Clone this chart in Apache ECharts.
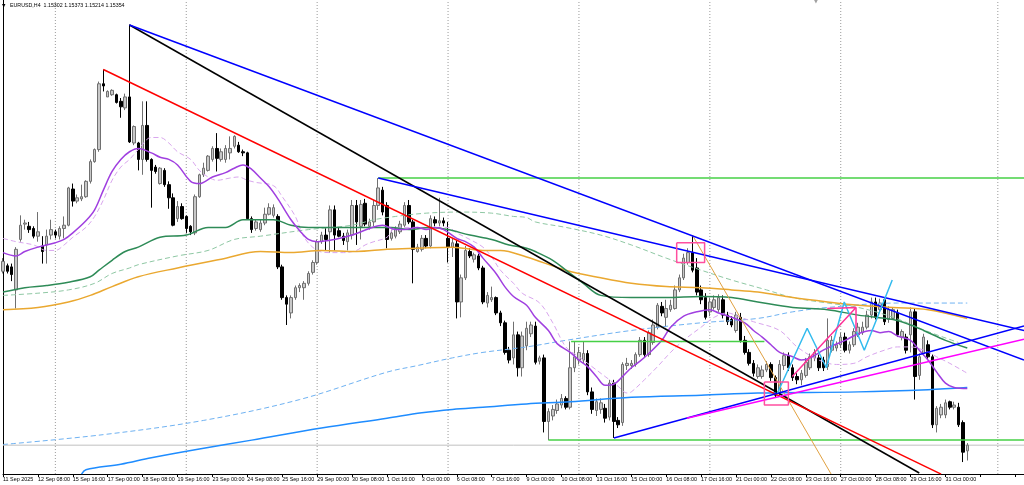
<!DOCTYPE html>
<html><head><meta charset="utf-8">
<script src="https://cdn.jsdelivr.net/npm/echarts@6/dist/echarts.min.js"></script>
<style>html,body{margin:0;padding:0;background:#fff}#c{width:1024px;height:485px}</style>
</head><body><div id="c"></div><script>
// ---------- data ----------
const N_CAT = 235; // 222 bars + empty right shift
const tickLabels = ["11 Sep 2025","12 Sep 08:00","15 Sep 16:00","17 Sep 00:00","18 Sep 08:00","19 Sep 16:00","23 Sep 00:00","24 Sep 08:00","25 Sep 16:00","29 Sep 00:00","30 Sep 08:00","1 Oct 16:00","3 Oct 00:00","6 Oct 08:00","7 Oct 16:00","9 Oct 00:00","10 Oct 08:00","13 Oct 16:00","15 Oct 00:00","16 Oct 08:00","17 Oct 16:00","21 Oct 00:00","22 Oct 08:00","23 Oct 16:00","27 Oct 00:00","28 Oct 08:00","29 Oct 16:00","31 Oct 00:00"];
const weekSeparators = [12,42,72,102,132,162,192,228];
const titleText = "EURUSD,H4  1.15302 1.15373 1.15214 1.15354";
const bidPrice = 1.15354;
const yMin = 1.15091, yMax = 1.19414;
// [open, high, low, close]
const ohlc = [
[1.1694,1.1706,1.1692,1.1703],[1.1699,1.1701,1.1692,1.1694],[1.1698,1.1701,1.1685,1.1691],[1.1677,1.1716,1.1660,1.1714],
[1.1723,1.1745,1.1721,1.1736],[1.1737,1.1741,1.1732,1.1738],[1.1735,1.1739,1.1729,1.1732],[1.1733,1.1735,1.1724,1.1726],
[1.1726,1.1748,1.1721,1.1730],[1.1717,1.1726,1.1701,1.1712],[1.1718,1.1732,1.1701,1.1726],[1.1727,1.1741,1.1723,1.1732],
[1.1730,1.1732,1.1724,1.1727],[1.1726,1.1735,1.1723,1.1733],[1.1733,1.1744,1.1724,1.1736],[1.1736,1.1771,1.1735,1.1770],
[1.1769,1.1774,1.1753,1.1758],[1.1758,1.1764,1.1756,1.1761],[1.1760,1.1773,1.1758,1.1762],[1.1762,1.1777,1.1761,1.1776],
[1.1776,1.1796,1.1774,1.1794],[1.1794,1.1806,1.1793,1.1805],[1.1805,1.1867,1.1803,1.1865],[1.1865,1.1878,1.1858,1.1863],
[1.1853,1.1859,1.1853,1.1858],[1.1855,1.1860,1.1854,1.1859],[1.1855,1.1856,1.1847,1.1848],[1.1849,1.1852,1.1834,1.1844],
[1.1843,1.1856,1.1841,1.1853],[1.1853,1.1919,1.1811,1.1812],[1.1811,1.1827,1.1809,1.1826],[1.1811,1.1812,1.1786,1.1796],
[1.1796,1.1849,1.1782,1.1827],[1.1827,1.1849,1.1794,1.1796],[1.1796,1.1797,1.1752,1.1786],[1.1789,1.1791,1.1783,1.1785],
[1.1774,1.1789,1.1773,1.1788],[1.1786,1.1788,1.1771,1.1773],[1.1773,1.1776,1.1751,1.1761],[1.1761,1.1765,1.1735,1.1736],
[1.1742,1.1758,1.1739,1.1753],[1.1753,1.1756,1.1741,1.1742],[1.1744,1.1745,1.1729,1.1733],[1.1735,1.1736,1.1727,1.1730],
[1.1729,1.1764,1.1727,1.1762],[1.1762,1.1783,1.1761,1.1782],[1.1782,1.1793,1.1780,1.1788],[1.1786,1.1800,1.1785,1.1799],
[1.1796,1.1808,1.1794,1.1806],[1.1806,1.1820,1.1785,1.1797],[1.1796,1.1806,1.1794,1.1803],[1.1796,1.1809,1.1793,1.1806],
[1.1802,1.1817,1.1796,1.1806],[1.1808,1.1818,1.1806,1.1817],[1.1809,1.1812,1.1802,1.1803],[1.1803,1.1805,1.1799,1.1802],
[1.1802,1.1803,1.1741,1.1742],[1.1742,1.1744,1.1729,1.1732],[1.1733,1.1741,1.1731,1.1739],[1.1732,1.1741,1.1730,1.1738],
[1.1738,1.1752,1.1736,1.1746],[1.1746,1.1756,1.1745,1.1752],[1.1745,1.1755,1.1743,1.1752],[1.1744,1.1746,1.1696,1.1698],
[1.1698,1.1700,1.1668,1.1670],[1.1670,1.1672,1.1645,1.1664],[1.1656,1.1672,1.1651,1.1670],[1.1670,1.1681,1.1668,1.1679],
[1.1679,1.1683,1.1675,1.1681],[1.1679,1.1685,1.1668,1.1683],[1.1683,1.1694,1.1681,1.1692],[1.1693,1.1704,1.1691,1.1702],
[1.1702,1.1723,1.1700,1.1721],[1.1721,1.1730,1.1719,1.1727],[1.1727,1.1734,1.1713,1.1723],[1.1730,1.1754,1.1711,1.1750],
[1.1750,1.1754,1.1713,1.1727],[1.1731,1.1734,1.1725,1.1726],[1.1726,1.1729,1.1718,1.1722],[1.1721,1.1732,1.1713,1.1729],
[1.1727,1.1759,1.1723,1.1754],[1.1754,1.1759,1.1718,1.1739],[1.1735,1.1759,1.1723,1.1755],[1.1756,1.1760,1.1735,1.1737],
[1.1735,1.1742,1.1732,1.1739],[1.1739,1.1759,1.1735,1.1754],[1.1754,1.1779,1.1750,1.1770],[1.1768,1.1771,1.1745,1.1748],
[1.1754,1.1757,1.1715,1.1723],[1.1724,1.1732,1.1722,1.1729],[1.1726,1.1735,1.1724,1.1733],[1.1730,1.1740,1.1728,1.1737],
[1.1736,1.1757,1.1734,1.1754],[1.1754,1.1759,1.1737,1.1739],[1.1739,1.1741,1.1683,1.1714],[1.1712,1.1719,1.1711,1.1716],
[1.1714,1.1727,1.1712,1.1724],[1.1724,1.1727,1.1715,1.1717],[1.1717,1.1745,1.1715,1.1742],[1.1741,1.1744,1.1735,1.1738],
[1.1738,1.1761,1.1735,1.1740],[1.1740,1.1743,1.1735,1.1738],[1.1724,1.1739,1.1702,1.1716],[1.1716,1.1724,1.1707,1.1720],
[1.1719,1.1722,1.1651,1.1666],[1.1666,1.1691,1.1652,1.1688],[1.1688,1.1717,1.1686,1.1713],[1.1712,1.1715,1.1706,1.1708],
[1.1705,1.1711,1.1702,1.1709],[1.1708,1.1710,1.1695,1.1697],[1.1697,1.1699,1.1664,1.1666],[1.1665,1.1675,1.1661,1.1672],
[1.1668,1.1680,1.1666,1.1670],[1.1670,1.1671,1.1654,1.1656],[1.1656,1.1658,1.1644,1.1647],[1.1647,1.1649,1.1618,1.1620],
[1.1622,1.1625,1.1610,1.1613],[1.1615,1.1648,1.1609,1.1636],[1.1636,1.1639,1.1598,1.1606],[1.1606,1.1639,1.1598,1.1635],
[1.1626,1.1648,1.1622,1.1642],[1.1637,1.1648,1.1634,1.1645],[1.1644,1.1648,1.1609,1.1611],[1.1612,1.1617,1.1609,1.1615],
[1.1615,1.1618,1.1547,1.1557],[1.1557,1.1569,1.1540,1.1566],[1.1562,1.1572,1.1558,1.1568],[1.1567,1.1577,1.1564,1.1573],
[1.1572,1.1582,1.1569,1.1578],[1.1578,1.1580,1.1568,1.1570],[1.1570,1.1630,1.1568,1.1606],[1.1606,1.1630,1.1602,1.1616],
[1.1613,1.1625,1.1609,1.1620],[1.1613,1.1630,1.1610,1.1619],[1.1619,1.1622,1.1581,1.1584],[1.1584,1.1588,1.1564,1.1568],
[1.1567,1.1578,1.1562,1.1575],[1.1568,1.1578,1.1564,1.1574],[1.1569,1.1573,1.1556,1.1560],[1.1561,1.1595,1.1558,1.1592],
[1.1592,1.1595,1.1542,1.1557],[1.1558,1.1561,1.1551,1.1554],[1.1556,1.1611,1.1553,1.1609],[1.1608,1.1615,1.1604,1.1610],
[1.1608,1.1613,1.1605,1.1610],[1.1609,1.1620,1.1607,1.1618],[1.1618,1.1634,1.1616,1.1631],[1.1631,1.1634,1.1616,1.1618],
[1.1618,1.1640,1.1616,1.1638],[1.1629,1.1650,1.1627,1.1645],[1.1643,1.1665,1.1641,1.1663],[1.1662,1.1666,1.1653,1.1656],
[1.1652,1.1668,1.1643,1.1660],[1.1659,1.1668,1.1657,1.1663],[1.1660,1.1681,1.1659,1.1677],[1.1677,1.1691,1.1675,1.1688],
[1.1688,1.1710,1.1686,1.1706],[1.1702,1.1715,1.1700,1.1711],[1.1711,1.1727,1.1693,1.1695],[1.1697,1.1706,1.1672,1.1675],
[1.1677,1.1681,1.1664,1.1668],[1.1670,1.1674,1.1650,1.1652],[1.1657,1.1670,1.1653,1.1666],[1.1661,1.1672,1.1659,1.1668],
[1.1659,1.1673,1.1657,1.1670],[1.1668,1.1672,1.1651,1.1654],[1.1654,1.1657,1.1645,1.1648],[1.1650,1.1653,1.1643,1.1645],
[1.1640,1.1657,1.1638,1.1654],[1.1652,1.1656,1.1629,1.1631],[1.1631,1.1635,1.1618,1.1620],[1.1620,1.1623,1.1608,1.1610],
[1.1610,1.1613,1.1598,1.1601],[1.1598,1.1609,1.1596,1.1606],[1.1598,1.1608,1.1596,1.1604],[1.1604,1.1612,1.1602,1.1609],
[1.1609,1.1611,1.1594,1.1597],[1.1597,1.1599,1.1579,1.1581],[1.1583,1.1613,1.1580,1.1609],[1.1608,1.1620,1.1604,1.1617],
[1.1617,1.1620,1.1603,1.1606],[1.1606,1.1609,1.1594,1.1597],[1.1598,1.1601,1.1591,1.1595],[1.1595,1.1604,1.1590,1.1601],
[1.1599,1.1615,1.1597,1.1611],[1.1606,1.1619,1.1604,1.1616],[1.1615,1.1623,1.1612,1.1620],[1.1615,1.1618,1.1603,1.1606],
[1.1613,1.1616,1.1603,1.1606],[1.1607,1.1651,1.1604,1.1631],[1.1622,1.1635,1.1620,1.1631],[1.1624,1.1630,1.1621,1.1627],
[1.1627,1.1638,1.1624,1.1634],[1.1634,1.1638,1.1620,1.1622],[1.1622,1.1630,1.1619,1.1627],[1.1627,1.1642,1.1625,1.1639],
[1.1636,1.1647,1.1634,1.1643],[1.1638,1.1648,1.1636,1.1643],[1.1643,1.1658,1.1641,1.1654],[1.1654,1.1670,1.1651,1.1666],
[1.1666,1.1670,1.1650,1.1652],[1.1659,1.1669,1.1656,1.1665],[1.1668,1.1670,1.1645,1.1648],[1.1650,1.1662,1.1647,1.1659],
[1.1651,1.1661,1.1650,1.1659],[1.1656,1.1659,1.1634,1.1636],[1.1634,1.1641,1.1631,1.1639],[1.1634,1.1637,1.1619,1.1622],
[1.1636,1.1661,1.1620,1.1657],[1.1657,1.1660,1.1577,1.1598],[1.1599,1.1619,1.1595,1.1616],[1.1619,1.1637,1.1617,1.1634],
[1.1627,1.1631,1.1613,1.1616],[1.1616,1.1618,1.1551,1.1554],[1.1554,1.1571,1.1547,1.1569],[1.1563,1.1573,1.1560,1.1570],
[1.1563,1.1577,1.1560,1.1574],[1.1575,1.1576,1.1568,1.1570],[1.1570,1.1575,1.1568,1.1572],[1.1570,1.1574,1.1552,1.1554],
[1.1556,1.1558,1.1520,1.1529],[1.15302,1.15373,1.15214,1.15354]
];
// moving averages: [bar index, price]
const maPurple = [[0,1.1711],[3,1.1708],[5,1.1712],[8,1.1716],[12,1.1720],[14,1.1723],[16,1.1729],[19,1.1740],[21,1.1750],[23,1.1768],[25,1.1785],[27,1.1796],[29,1.1803],[31,1.1806],[34,1.1802],[36,1.1798],[38,1.1796],[40,1.1791],[43,1.1776],[45,1.1774],[48,1.1780],[51,1.1784],[53,1.1788],[55,1.1791],[57,1.1787],[59,1.1779],[61,1.1771],[63,1.1760],[66,1.1741],[68,1.1731],[70,1.1723],[72,1.1721],[76,1.1723],[80,1.1727],[84,1.1733],[87,1.1736],[90,1.1732],[92,1.1732],[95,1.1734],[97,1.1732],[99,1.1734],[101,1.1732],[104,1.1724],[106,1.1721],[108,1.1716],[110,1.1706],[113,1.1692],[115,1.1680],[117,1.1671],[120,1.1663],[122,1.1652],[125,1.1640],[127,1.1628],[130,1.1620],[132,1.1613],[134,1.1607],[136,1.1598],[138,1.1590],[140,1.1591],[142,1.1598],[144,1.1606],[146,1.1612],[148,1.1619],[151,1.1631],[153,1.1643],[156,1.1653],[159,1.1657],[162,1.1659],[164,1.1656],[167,1.1652],[170,1.1647],[172,1.1640],[174,1.1634],[176,1.1627],[178,1.1620],[181,1.1616],[183,1.1613],[185,1.1615],[188,1.1622],[190,1.1626],[193,1.1631],[196,1.1637],[199,1.1640],[201,1.1638],[203,1.1639],[205,1.1635],[208,1.1631],[210,1.1622],[212,1.1613],[214,1.1602],[216,1.1592],[218,1.1588],[221,1.1587]];
const maLilac = [[0,1.1724],[3,1.1721],[7,1.1718],[10,1.1713],[12,1.1713],[14,1.1718],[16,1.1725],[19,1.1734],[21,1.1744],[23,1.1759],[25,1.1777],[27,1.1789],[29,1.1796],[31,1.1805],[34,1.1816],[36,1.1816],[38,1.1811],[40,1.1803],[43,1.1796],[45,1.1786],[47,1.1780],[49,1.1777],[52,1.1779],[54,1.1780],[56,1.1777],[58,1.1775],[62,1.1772],[64,1.1762],[67,1.1744],[69,1.1725],[72,1.1713],[75,1.1711],[78,1.1711],[81,1.1713],[83,1.1718],[85,1.1721],[88,1.1725],[90,1.1734],[94,1.1734],[99,1.1734],[102,1.1734],[104,1.1729],[107,1.1723],[110,1.1716],[112,1.1707],[114,1.1695],[117,1.1683],[119,1.1674],[123,1.1665],[126,1.1647],[129,1.1625],[132,1.1616],[135,1.1607],[138,1.1598],[141,1.1589],[143,1.1583],[144,1.1584],[147,1.1595],[150,1.1607],[153,1.1620],[156,1.1631],[160,1.1643],[163,1.1652],[166,1.1656],[169,1.1652],[172,1.1648],[178,1.1640],[182,1.1625],[187,1.1613],[191,1.1609],[195,1.1610],[198,1.1616],[202,1.1622],[205,1.1625],[208,1.1625],[211,1.1622],[214,1.1616],[217,1.1610],[221,1.1601]];
const maGreen = [[0,1.1675],[5,1.1679],[10,1.1681],[15,1.1684],[20,1.1689],[22,1.1695],[25,1.1704],[28,1.1712],[31,1.1716],[36,1.1725],[42,1.1727],[47,1.1734],[51,1.1734],[55,1.1741],[59,1.1741],[62,1.1741],[66,1.1736],[70,1.1734],[75,1.1734],[80,1.1734],[84,1.1734],[89,1.1734],[93,1.1732],[98,1.1734],[102,1.1732],[107,1.1727],[112,1.1723],[116,1.1718],[120,1.1715],[122,1.1712],[126,1.1704],[129,1.1695],[133,1.1683],[137,1.1672],[144,1.1670],[152,1.1670],[160,1.1671],[167,1.1670],[173,1.1666],[181,1.1661],[189,1.1659],[196,1.1654],[204,1.1650],[208,1.1645],[211,1.1640],[216,1.1631],[221,1.1624]];
const maGreenDash = [[0,1.1672],[8,1.1674],[15,1.1677],[21,1.1683],[25,1.1692],[29,1.1697],[31,1.1700],[40,1.1708],[47,1.1713],[53,1.1723],[59,1.1726],[70,1.1732],[80,1.1736],[85,1.1741],[90,1.1744],[97,1.1747],[105,1.1748],[112,1.1747],[117,1.1744],[120,1.1743],[122,1.1739],[129,1.1734],[137,1.1727],[144,1.1718],[152,1.1706],[160,1.1695],[167,1.1686],[175,1.1677],[181,1.1670],[189,1.1665],[196,1.1661],[204,1.1652],[212,1.1639],[219,1.1629]];
const maOrange = [[0,1.1659],[8,1.1661],[15,1.1666],[20,1.1672],[25,1.1680],[31,1.1689],[40,1.1697],[50,1.1705],[59,1.1712],[66,1.1711],[73,1.1713],[81,1.1712],[88,1.1714],[95,1.1715],[103,1.1716],[110,1.1713],[114,1.1713],[120,1.1707],[129,1.1695],[137,1.1688],[144,1.1683],[152,1.1680],[160,1.1679],[167,1.1677],[173,1.1675],[181,1.1670],[189,1.1666],[196,1.1663],[204,1.1661],[212,1.1659],[221,1.1651]];
const maBlue = [[18,1.1509],[19,1.1513],[27,1.1518],[34,1.1524],[45,1.1532],[57,1.1540],[73,1.1551],[88,1.1560],[96,1.1565],[103,1.1568],[110,1.1570],[120,1.1573],[130,1.1575],[144,1.1579],[160,1.1581],[173,1.1583],[196,1.1584],[212,1.1586],[221,1.1588]];
const maBlueDash = [[0,1.1536],[23,1.1545],[46,1.1558],[68,1.1577],[88,1.1602],[95,1.1608],[103,1.1615],[110,1.1620],[120,1.1625],[129,1.1631],[144,1.1640],[160,1.1647],[173,1.1651],[181,1.1657],[189,1.1661],[205,1.1665],[221,1.1665]];
// drawn objects: [[index, price], ...]
const trendBlack = [[29,1.19186],[210,1.1510]];
const trendRed = [[23,1.1878],[215,1.1509]];
const trendBlueA = [[29,1.19186],[234,1.1613]];
const trendBlueB = [[86,1.1779],[234,1.1640]];
const trendBlueC = [[140,1.1542],[234,1.1644]];
const trendMagenta = [[156.7,1.1560],[234,1.1632]];
const levelGreen1 = [[86,1.1779],[234,1.1779]];
const levelGreen2 = [[125,1.1540],[234,1.1540]];
const levelGreen3 = [[130.2,1.1630],[174.5,1.1630]];
const trendOrange = [[158,1.1727],[189.8,1.1509]];
const zigCyan = [[177.5,1.1583],[184.3,1.1642],[188.7,1.1606],[192.8,1.1666],[197.4,1.1622],[203.8,1.1686]];
const zigPink = [[180.9,1.1598],[195.5,1.1661],[188.9,1.1660]];
const pinkTick = [[195.5,1.1661],[195.5,1.1639]];
const box1 = [[154.4,1.1720],[160.8,1.1720],[160.8,1.1702],[154.4,1.1702],[154.4,1.1720]];
const box2 = [[174.5,1.1593],[180,1.1593],[180,1.1572],[174.5,1.1572],[174.5,1.1593]];

// ---------- chart ----------
const categories = Array.from({length: N_CAT}, (_, i) => String(i));
const candleData = ohlc.map(d => [d[0], d[3], d[2], d[1]]);
function ln(data, color, width, type, z) {
  return {type:'line', xAxisIndex:1, yAxisIndex:0, data, symbol:'none', showSymbol:false,
    lineStyle:{color, width, type: type || 'solid'}, silent:true, animation:false, z: z || 4, clip:true};
}
function ma(data, color, width, type) { const s = ln(data, color, width, type, 3); s.smooth = 0.35; return s; }
const series = [];
weekSeparators.forEach(k => series.push(ln([[k,yMin],[k,yMax]], '#9a9a9a', 1, [1,2], 1)));
series.push(ln([[0,bidPrice],[234,bidPrice]], '#c0c0c0', 1, 'solid', 1));
series.push({type:'candlestick', xAxisIndex:0, yAxisIndex:0, data:candleData, barWidth:3, z:2, animation:false,
  itemStyle:{color:'#c8c8c8', color0:'#000000', borderColor:'#707070', borderColor0:'#000000', borderWidth:1}});
series.push(ma(maBlueDash, '#6fb2f2', 1, [5,3]));
series.push(ma(maGreenDash, '#8fc8a4', 1, [5,3]));
series.push(ma(maLilac, '#d9a6ee', 1, [5,3]));
series.push(ma(maBlue, '#1e8cff', 1.5));
series.push(ma(maOrange, '#eaa830', 1.5));
series.push(ma(maGreen, '#2e8b57', 1.5));
series.push(ma(maPurple, '#a03fe0', 1.5));
series.push(ln(levelGreen1, '#46d046', 1.5));
series.push(ln(levelGreen2, '#46d046', 1.5));
series.push(ln(levelGreen3, '#46d046', 1.5));
series.push(ln(trendOrange, '#e0a040', 1));
series.push(ln(trendBlack, '#000000', 1.5));
series.push(ln(trendRed, '#ff0000', 1.5));
series.push(ln(trendBlueA, '#0000ff', 1.5));
series.push(ln(trendBlueB, '#0000ff', 1.5));
series.push(ln(trendBlueC, '#0000ff', 1.5));
series.push(ln(trendMagenta, '#ff00ff', 1.5));
series.push(ln(zigCyan, '#33bbee', 1.5));
series.push(ln(zigPink, '#ff3399', 1.5));
series.push(ln(pinkTick, '#ff3399', 1.5));
series.push(ln(box1, '#ff4fa0', 1.5));
series.push(ln(box2, '#ff4fa0', 1.5));

const chart = echarts.init(document.getElementById('c'), null, {renderer:'canvas'});
chart.setOption({
  animation:false,
  backgroundColor:'#ffffff',
  grid:{left:1.5, top:0, width:1023.75, height:474, containLabel:false},
  xAxis:[
    {type:'category', data:categories, boundaryGap:false, gridIndex:0,
     axisLine:{show:true, lineStyle:{color:'#000', width:1}},
     axisTick:{show:true, interval:7, length:3, lineStyle:{color:'#000'}},
     axisLabel:{show:true, interval:7, align:'left', margin:3, color:'#000', fontSize:5.4,
       fontFamily:'Liberation Sans',
       formatter:(v, idx) => (idx % 8 === 0 && tickLabels[idx/8]) ? tickLabels[idx/8] : ''},
     splitLine:{show:false}, splitArea:{show:false}},
    {type:'value', min:0, max:N_CAT-1, show:false, gridIndex:0,
     axisLine:{show:false}, axisTick:{show:false}, axisLabel:{show:false},
     splitLine:{show:false}, splitArea:{show:false}}
  ],
  yAxis:[{type:'value', min:yMin, max:yMax, scale:true,
    axisLine:{show:true, lineStyle:{color:'#000', width:1}}, axisTick:{show:false},
    axisLabel:{show:false}, splitLine:{show:false}, splitArea:{show:false}}],
  graphic:[
    {type:'text', left:2, top:3, style:{text:'\u25BC', fontSize:4.5, fill:'#000', fontFamily:'DejaVu Sans'}},
    {type:'text', left:10, top:3, style:{text:titleText, fontSize:5.3, fill:'#000', fontFamily:'Liberation Sans'}},
    {type:'text', left:814, top:-1, style:{text:'\u25BC', fontSize:5, fill:'#a0a0a0', fontFamily:'DejaVu Sans'}}
  ],
  series
});
</script></body></html>
